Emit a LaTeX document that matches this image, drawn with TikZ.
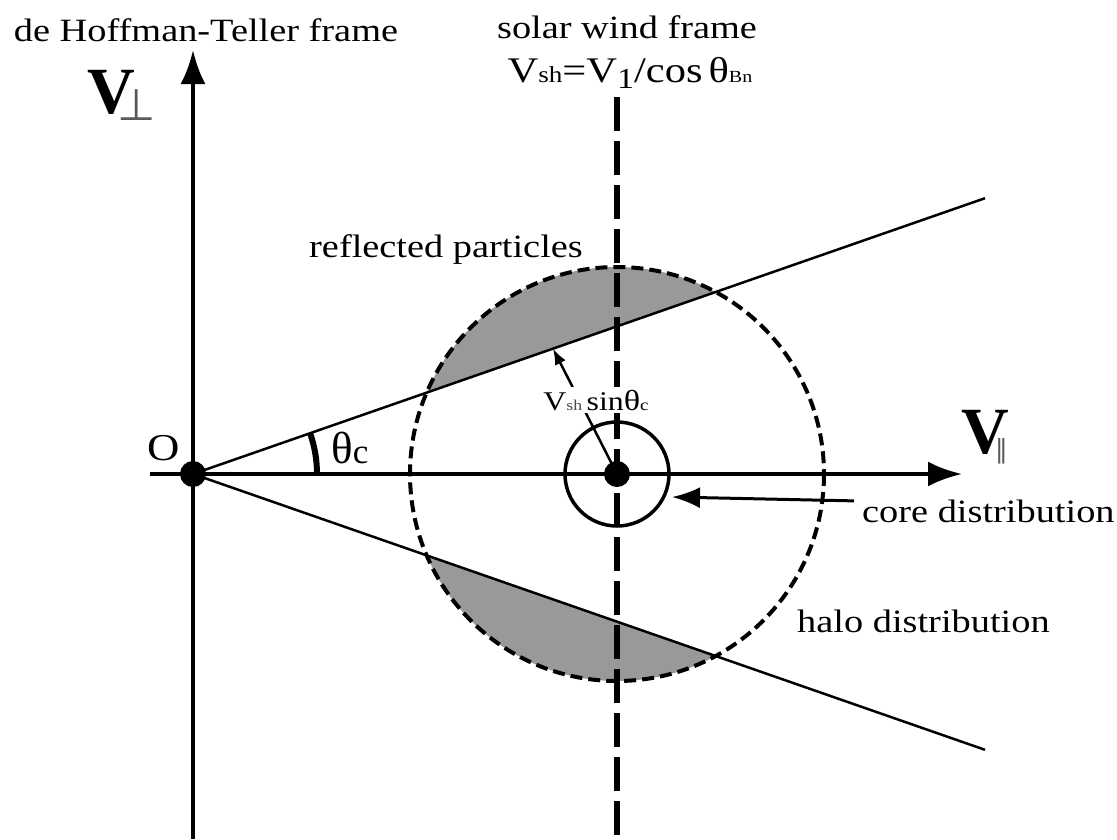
\documentclass[tikz,border=0pt]{standalone}
\usepackage{fontspec}
\setmainfont{Liberation Serif}[FakeStretch=1.18]
\newfontfamily\plainserif{Liberation Serif}
\newfontfamily\symfont{DejaVu Sans}
\usetikzlibrary{arrows.meta}
\newcommand{\fs}[1]{\fontsize{#1}{#1}\selectfont}
\begin{document}
\begin{tikzpicture}[x=1pt,y=-1pt,
  axisline/.style={line width=4pt,-{Latex[length=34pt,width=25pt]}},
  coneline/.style={line width=2.5pt},
  halo/.style={line width=4pt,dash pattern=on 12pt off 6pt},
  core/.style={line width=3.5pt},
  vdashed/.style={line width=6pt,dash pattern=on 34pt off 10pt},
  segfill/.style={fill=black!40},
  dot/.style={circle,fill=black,inner sep=0pt,minimum size=26pt},
  lbl/.style={inner sep=0pt,font=\fs{32.5}},
  leader/.style={line width=3pt,-{Latex[length=28pt,width=21pt]}},
  smallleader/.style={line width=2.5pt,-{Latex[length=16pt,width=12pt]}},
  anglearc/.style={line width=6pt}]
\useasboundingbox (0,0) rectangle (1117,839);
% key points
\coordinate (Ocoord) at (193,474);
\coordinate (C) at (617,474);
\coordinate (upEnd) at (985,198.2);
\coordinate (loEnd) at (985,749.8);
\coordinate (vBot) at (193,839);
\coordinate (vTop) at (193,50);
\coordinate (hLeft) at (150,474);
\coordinate (hRight) at (962,474);
\coordinate (dTop) at (617,97);
\coordinate (dBot) at (617,839);
\coordinate (leadTip) at (553,348.6);
\coordinate (coreTip) at (672,497);
% shaded segments
\begin{scope}
  \clip (C) circle[radius=207];
  \fill[segfill] (Ocoord) -- (1100,158.2) -- (1100,0) -- (193,0) -- cycle;
  \fill[segfill] (Ocoord) -- (1100,789.8) -- (1100,839) -- (193,839) -- cycle;
\end{scope}
% cone lines
\draw[coneline] (Ocoord) -- (upEnd);
\draw[coneline] (Ocoord) -- (loEnd);
% halo circle
\draw[halo] (C) circle[radius=207];
% vertical dashed line
\draw[vdashed] (dTop) -- (dBot);
% axes
\draw[axisline] (vBot) -- (vTop);
\draw[axisline] (hLeft) -- (hRight);
% angle arc
\draw[anglearc] (317,474) arc[start angle=0,end angle=-19.2,radius=124];
% leader to upper line
\draw[smallleader] (C) -- (leadTip);
\node[fill=white,inner sep=3pt,anchor=base] (vsin) at (596,410)
  {\fs{27}V{\fs{15}\color{black!70}sh}\,sin{\fs{29}θ}{\fs{16}c}};
% core circle
\draw[core] (C) circle[radius=52];
% dots
\node[dot] (O) at (Ocoord) {};
\node[dot] (Cdot) at (C) {};
% labels
\node[lbl,anchor=base] (hT) at (206,41) {de Hoffman-Teller frame};
\node[lbl,anchor=base] (sw) at (627,38) {solar wind frame};
\node[inner sep=0pt,anchor=base] (vsh) at (630,82)
  {\fs{36}V{\fs{23}sh}=V\raisebox{-6pt}{\fs{29}1}/cos\,θ{\fs{17}Bn}};
\node[inner sep=0pt,anchor=base west] (Vperp) at (87,113)
  {\plainserif\bfseries\fs{66}V\kern-17pt\raisebox{-7pt}{\symfont\mdseries\fs{44}\color{black!65}⊥}};
\node[inner sep=0pt,anchor=base west] (Vpar) at (961,453)
  {\plainserif\bfseries\fs{66}V\kern-14pt\raisebox{-5pt}{\symfont\mdseries\fs{26}\color{black!65}∥}};
\node[inner sep=0pt,anchor=base] (Olbl) at (164,460) {\fs{38}O};
\node[inner sep=0pt,anchor=base west] (theta) at (331,463) {\plainserif\fs{45}θ\fs{35}c};
\node[lbl,anchor=base east] (refl) at (583,257) {reflected particles};
\node[lbl,anchor=base west] (coreL) at (862,522) {core distribution};
\node[lbl,anchor=base west] (haloL) at (797,632) {halo distribution};
\draw[leader] (coreL.west) ++(-8,-10) coordinate (coreStart) (coreStart) -- (coreTip);
\end{tikzpicture}
\end{document}
